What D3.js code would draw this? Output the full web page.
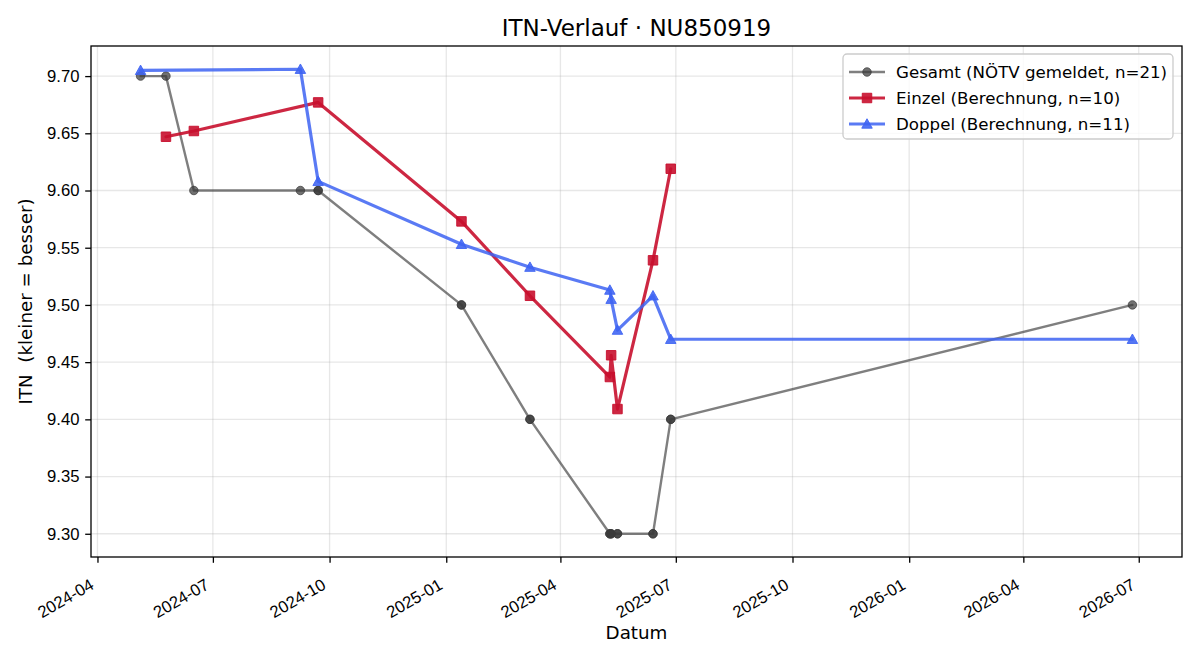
<!DOCTYPE html>
<html>
<head>
<meta charset="utf-8">
<script src="https://cdn.jsdelivr.net/npm/d3@7"></script>
<style>
  body { margin: 0; background: #ffffff; }
  svg { font-family: "DejaVu Sans", sans-serif; }
  text { white-space: pre; }
</style>
</head>
<body>
<div id="chart"></div>
<script>
// ---- data ----
var gesamt_dates = ["2024-05-05", "2024-05-25", "2024-06-16", "2024-09-08", "2024-09-22", "2024-09-22",
  "2025-01-13", "2025-01-13", "2025-03-08", "2025-03-08", "2025-05-10", "2025-05-10",
  "2025-05-11", "2025-05-11", "2025-05-16", "2025-05-16", "2025-06-13", "2025-06-13",
  "2025-06-27", "2025-06-27", "2026-06-26"];
var gesamt_values = [9.70, 9.70, 9.60, 9.60, 9.60, 9.60,
  9.50, 9.50, 9.40, 9.40, 9.30, 9.30,
  9.30, 9.30, 9.30, 9.30, 9.30, 9.30,
  9.40, 9.40, 9.50];

var einzel_dates = ["2024-05-25", "2024-06-16", "2024-09-22", "2025-01-13", "2025-03-08",
  "2025-05-10", "2025-05-11", "2025-05-16", "2025-06-13", "2025-06-27"];
var einzel_values = [9.647, 9.652, 9.677, 9.573, 9.508, 9.437, 9.456, 9.409, 9.539, 9.619];

var doppel_dates = ["2024-05-05", "2024-09-08", "2024-09-22", "2025-01-13", "2025-03-08",
  "2025-05-10", "2025-05-11", "2025-05-16", "2025-06-13", "2025-06-27", "2026-06-26"];
var doppel_values = [9.705, 9.706, 9.608, 9.553, 9.533, 9.513, 9.505, 9.478, 9.508, 9.470, 9.470];

var y_ticks = [9.30, 9.35, 9.40, 9.45, 9.50, 9.55, 9.60, 9.65, 9.70];

var title_text = "ITN-Verlauf · NU850919";
var x_label = "Datum";
var y_label = "ITN  (kleiner = besser)";

var parse_date = d3.utcParse("%Y-%m-%d");

function make_series(dates, values) {
  return dates.map(function(d, i) { return { date: parse_date(d), value: values[i] }; });
}

var series = [
  { name: "Gesamt (NÖTV gemeldet, n=21)", data: make_series(gesamt_dates, gesamt_values),
    color: "#3a3a3a", line_width: 2.4, line_opacity: 0.65, marker: "circle", marker_size: 8.5, marker_opacity: 0.72 },
  { name: "Einzel (Berechnung, n=10)", data: make_series(einzel_dates, einzel_values),
    color: "#c8102e", line_width: 3.2, line_opacity: 0.9, marker: "square", marker_size: 9.5, marker_opacity: 0.9 },
  { name: "Doppel (Berechnung, n=11)", data: make_series(doppel_dates, doppel_values),
    color: "#3d63f2", line_width: 3.2, line_opacity: 0.85, marker: "triangle", marker_size: 10.5, marker_opacity: 0.88 }
];

// ---- layout ----
var width = 1200, height = 660;
var margin = { top: 46, right: 18, bottom: 103, left: 91 };
var plot_w = width - margin.left - margin.right;
var plot_h = height - margin.top - margin.bottom;
var tick_font = "16.67px";
var label_font = "18.3px";

var svg = d3.select("#chart").append("svg")
  .attr("width", width)
  .attr("height", height);

// matplotlib style 5% padding around the data
var all_points = [];
series.forEach(function(s) { all_points = all_points.concat(s.data); });
var x_ext = d3.extent(all_points, function(d) { return +d.date; });
var y_ext = d3.extent(all_points, function(d) { return d.value; });
var x_pad = (x_ext[1] - x_ext[0]) * 0.05;
var y_pad = (y_ext[1] - y_ext[0]) * 0.05;

var x = d3.scaleUtc()
  .domain([new Date(x_ext[0] - x_pad), new Date(x_ext[1] + x_pad)])
  .range([0, plot_w]);
var y = d3.scaleLinear()
  .domain([y_ext[0] - y_pad, y_ext[1] + y_pad])
  .range([plot_h, 0]);

var x_ticks = x.ticks(d3.utcMonth.every(3));
var fmt_x = d3.utcFormat("%Y-%m");

var g = svg.append("g")
  .attr("transform", "translate(" + margin.left + "," + margin.top + ")");

// grid
g.append("g").attr("class", "grid")
  .selectAll("line.vx")
  .data(x_ticks).enter().append("line")
  .attr("x1", function(d) { return x(d); })
  .attr("x2", function(d) { return x(d); })
  .attr("y1", 0).attr("y2", plot_h)
  .attr("stroke", "#b0b0b0").attr("stroke-opacity", 0.3).attr("stroke-width", 1.3);
g.append("g").attr("class", "grid")
  .selectAll("line.hy")
  .data(y_ticks).enter().append("line")
  .attr("x1", 0).attr("x2", plot_w)
  .attr("y1", function(d) { return y(d); })
  .attr("y2", function(d) { return y(d); })
  .attr("stroke", "#b0b0b0").attr("stroke-opacity", 0.3).attr("stroke-width", 1.3);

// axes
var x_axis = g.append("g")
  .attr("transform", "translate(0," + plot_h + ")")
  .call(d3.axisBottom(x).tickValues(x_ticks).tickFormat(fmt_x).tickSize(5.8).tickPadding(5.8));
x_axis.select(".domain").remove();
x_axis.selectAll(".tick line").attr("stroke", "#000").attr("stroke-width", 1.3);
x_axis.selectAll(".tick text")
  .attr("font-size", tick_font)
  .attr("fill", "#000")
  .attr("text-anchor", "end")
  .attr("dy", null)
  .attr("y", null)
  .attr("transform", "translate(-3,31) rotate(-30)");

var y_axis = g.append("g")
  .call(d3.axisLeft(y).tickValues(y_ticks).tickFormat(d3.format(".2f")).tickSize(5.8).tickPadding(5.8));
y_axis.select(".domain").remove();
y_axis.selectAll(".tick line").attr("stroke", "#000").attr("stroke-width", 1.3);
y_axis.selectAll(".tick text").attr("font-size", tick_font).attr("fill", "#000");

// frame
g.append("rect")
  .attr("width", plot_w).attr("height", plot_h)
  .attr("fill", "none").attr("stroke", "#000").attr("stroke-width", 1.3);

// marker drawing helper
function marker_path(type, size) {
  var h = size / 2;
  if (type == "square") return "M" + (-h) + "," + (-h) + "H" + h + "V" + h + "H" + (-h) + "Z";
  if (type == "triangle") return "M0," + (-h) + "L" + h + "," + (h * 0.8) + "L" + (-h) + "," + (h * 0.8) + "Z";
  return d3.symbol().type(d3.symbolCircle).size(Math.PI * h * h)();
}

var line = d3.line()
  .x(function(d) { return x(d.date); })
  .y(function(d) { return y(d.value); });

series.forEach(function(s) {
  var sg = g.append("g").attr("class", "series");
  sg.append("path")
    .datum(s.data)
    .attr("d", line)
    .attr("fill", "none")
    .attr("stroke", s.color)
    .attr("stroke-opacity", s.line_opacity)
    .attr("stroke-width", s.line_width)
    .attr("stroke-linejoin", "round")
    .attr("stroke-linecap", "round");
  sg.selectAll("path.mk")
    .data(s.data).enter().append("path")
    .attr("class", "mk")
    .attr("d", marker_path(s.marker, s.marker_size))
    .attr("transform", function(d) { return "translate(" + x(d.date) + "," + y(d.value) + ")"; })
    .attr("fill", s.color)
    .attr("fill-opacity", s.marker_opacity)
    .attr("stroke", s.color)
    .attr("stroke-opacity", s.marker_opacity)
    .attr("stroke-width", 1);
});

// title and axis labels
svg.append("text")
  .attr("x", margin.left + plot_w / 2).attr("y", 36)
  .attr("text-anchor", "middle")
  .attr("font-size", "23px")
  .text(title_text);
svg.append("text")
  .attr("x", margin.left + plot_w / 2).attr("y", 639)
  .attr("text-anchor", "middle")
  .attr("font-size", label_font)
  .text(x_label);
svg.append("text")
  .attr("transform", "translate(32," + (margin.top + plot_h / 2) + ") rotate(-90)")
  .attr("text-anchor", "middle")
  .attr("font-size", label_font)
  .text(y_label);

// legend
var legend = svg.append("g").attr("transform", "translate(843,54)");
legend.append("rect")
  .attr("width", 330).attr("height", 85)
  .attr("rx", 4)
  .attr("fill", "#fff").attr("fill-opacity", 0.8)
  .attr("stroke", "#cccccc").attr("stroke-width", 1.3);
var rows = legend.selectAll("g.row")
  .data(series).enter().append("g")
  .attr("class", "row")
  .attr("transform", function(d, i) { return "translate(0," + (18 + i * 26) + ")"; });
rows.append("line")
  .attr("x1", 6).attr("x2", 42)
  .attr("stroke", function(d) { return d.color; })
  .attr("stroke-opacity", function(d) { return d.line_opacity; })
  .attr("stroke-width", function(d) { return d.line_width; });
rows.append("path")
  .attr("d", function(d) { return marker_path(d.marker, d.marker_size); })
  .attr("transform", "translate(24,0)")
  .attr("fill", function(d) { return d.color; })
  .attr("fill-opacity", function(d) { return d.marker_opacity; })
  .attr("stroke", function(d) { return d.color; })
  .attr("stroke-opacity", function(d) { return d.marker_opacity; });
rows.append("text")
  .attr("x", 53).attr("dy", "0.36em")
  .attr("font-size", tick_font)
  .text(function(d) { return d.name; });
</script>
</body>
</html>
